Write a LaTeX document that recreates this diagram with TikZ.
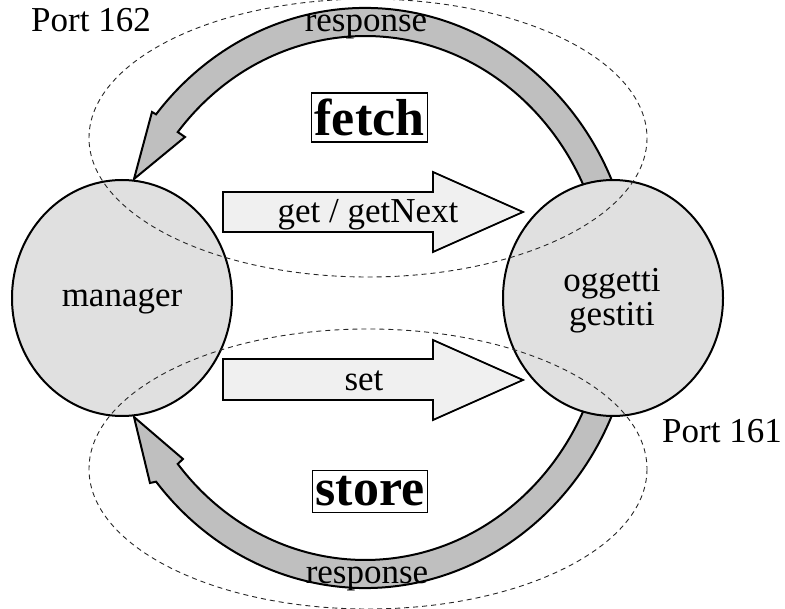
\documentclass[tikz,border=0pt]{standalone}
\usepackage{fontspec}
\setmainfont{Liberation Serif}
\usetikzlibrary{calc,shapes.geometric}
\definecolor{agentgray}{gray}{0.88}
\definecolor{bandgray}{gray}{0.75}
\definecolor{msggray}{gray}{0.94}
\begin{document}
\begin{tikzpicture}[x=1pt,y=-1pt,
  every node/.style={font=\fontsize{35}{40}\selectfont, inner sep=0pt},
  agent/.style={ellipse, draw, line width=2pt, fill=agentgray,
                minimum width=220pt, minimum height=236pt},
  band/.style={draw, line width=2pt, fill=bandgray, line join=miter},
  msg/.style={draw, line width=1.8pt, fill=msggray, line join=miter},
  opbox/.style={draw, line width=1.5pt, font=\fontsize{52}{60}\selectfont\bfseries,
                inner xsep=3pt, inner ysep=6pt},
  zone/.style={draw=black!85, line width=0.9pt, dash pattern=on 5pt off 4pt},
  lbl/.style={anchor=base}
]
\useasboundingbox (0,0) rectangle (785,609);

% centre of the two response loops
\coordinate (loop) at (365,298);

% response loop of the fetch exchange (upper)
\path[band] ($(loop)+(-15:270 and 290)$)
  arc[start angle=-15, end angle=-140.7, x radius=270, y radius=290]
  -- (152,112) -- (134,179) -- (185,137)
  -- ($(loop)+(-140.7:242 and 262)$)
  arc[start angle=-140.7, end angle=-15, x radius=242, y radius=262] -- cycle;

% response loop of the store exchange (lower)
\path[band] ($(loop)+(15:270 and 290)$)
  arc[start angle=15, end angle=140.7, x radius=270, y radius=290]
  -- (150,483) -- (134,417) -- (183,459)
  -- ($(loop)+(140.7:242 and 262)$)
  arc[start angle=140.7, end angle=15, x radius=242, y radius=262] -- cycle;

% the two SNMP entities
\node[agent] (manager) at (122,298) {};
\node[agent] (objects) at (613,298) {};
\node[lbl] (managerlbl) at (122,307) {manager};
\node[lbl] (objlbl1) at (612,292) {oggetti};
\node[lbl] (objlbl2) at (612,326) {gestiti};

% request arrows
\draw[msg] (223,192) -- (433,192) -- (433,172) -- (523,212) -- (433,252)
  -- (433,232) -- (223,232) -- cycle;
\draw[msg] (223,359) -- (433,359) -- (433,340) -- (523,380) -- (433,420)
  -- (433,400) -- (223,400) -- cycle;
\node[lbl] (getlbl) at (368,223) {get / getNext};
\node[lbl] (setlbl) at (364,391) {set};

% operation titles
\node[opbox] (fetch) at (369.5,117.5) {fetch};
\node[opbox] (store) at (370,491.5) {store};

% response labels on the loops
\node[lbl] (resp1) at (366,32) {response};
\node[lbl] (resp2) at (367,583) {response};

% port labels
\node[anchor=base west] (p162) at (31,32) {Port 162};
\node[anchor=base west] (p161) at (662,443) {Port 161};

% dashed zones of the two exchanges
\draw[zone] (368,138) ellipse [x radius=279, y radius=139];
\draw[zone] (368,469) ellipse [x radius=279, y radius=140];
\end{tikzpicture}
\end{document}
